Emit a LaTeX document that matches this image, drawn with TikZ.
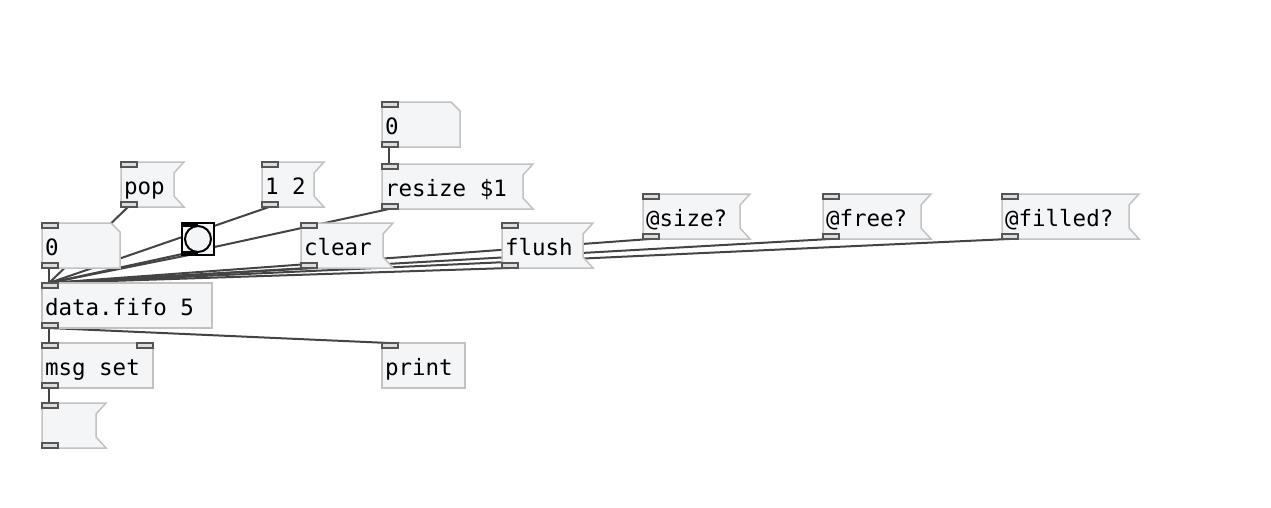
\documentclass[tikz,border=0pt]{standalone}
\usepackage{fontspec}
\setmonofont{DejaVu Sans Mono}
\usetikzlibrary{positioning}
\definecolor{boxfill}{HTML}{F4F5F7}
\definecolor{boxdraw}{HTML}{C2C2C2}
\definecolor{portdraw}{HTML}{555555}
\definecolor{portfill}{HTML}{DDDDDD}
\definecolor{wirecol}{HTML}{444444}
\newcommand{\pdfont}{\ttfamily\fontsize{22.5}{26}\selectfont}
\newcommand{\pdsp}{\hspace{0.602em}}
\pgfdeclarelayer{bg}
\pgfdeclarelayer{wires}
\pgfdeclarelayer{boxes}
\pgfsetlayers{bg,wires,boxes,main}
\begin{document}
\begin{tikzpicture}[x=1pt, y=-1pt,
        pd/.style={anchor=north west, inner xsep=3pt, inner ysep=0pt, outer sep=0pt, minimum height=45pt, text height=22pt, text depth=3pt, align=left, text width=#1, font=\pdfont},
        obj/.style={pd=#1, draw=boxdraw, fill=boxfill, line width=1.5pt},
        msg/.style={pd=#1},
        atom/.style={pd=#1},
        outline/.style={draw=boxdraw, fill=boxfill, line width=1.5pt},
        port/.style={draw=portdraw, fill=portfill, line width=1.4pt},
        wire/.style={draw=wirecol, line width=2pt},
        bng/.style={anchor=north west, draw, fill=boxfill, line width=2pt, minimum size=32pt, inner sep=0pt, outer sep=0pt}
    ]
        \begin{pgfonlayer}{bg}
            \fill[white] (0,0) rectangle (1271,507);
        \end{pgfonlayer}
        \useasboundingbox (0,0) rectangle (1271,507);

        \node [atom=72pt] (numtop) at (382,102) {0};
        \node [msg=145pt, below right=17pt and 0pt of numtop.south west] (resize) {resize\pdsp\$1};
        \node [msg=57pt] (pop) at (121,162) {pop};
        \node [msg=56pt] (pair) at (262,162) {1\pdsp 2};
        \node [atom=72pt] (num) at (42,223) {0};
        \node [bng] (bang) at (182,223) {};
        \node [circle, draw, fill=boxfill, line width=2pt, minimum size=26pt, inner sep=0pt] (bangdot) at (bang.center) {};
        \node [msg=86pt] (clear) at (301,223) {clear};
        \node [msg=85pt] (flush) at (502,223) {flush};
        \node [msg=101pt] (size) at (643,194) {@size?};
        \node [msg=102pt] (free) at (823,194) {@free?};
        \node [msg=131pt] (filled) at (1002,194) {@filled?};
        \node [obj=164pt] (fifo) at (42,283) {data.fifo\pdsp 5};
        \node [obj=105pt, below right=15pt and 0pt of fifo.south west] (set) {msg\pdsp set};
        \node [obj=77pt] (print) at (382,343) {print};
        \node [msg=58pt, below right=15pt and 0pt of set.south west] (out) {};

        \begin{pgfonlayer}{boxes}
            \foreach \n in {pop,pair,resize,clear,flush,size,free,filled,out}
                \draw [outline] (\n.north west) -- (\n.north east) -- ([shift={(-10,11)}]\n.north east) -- ([shift={(-10,-11)}]\n.south east) -- (\n.south east) -- (\n.south west) -- cycle;
            \foreach \n in {num,numtop}
                \draw [outline] (\n.north west) -- ([shift={(-9,0)}]\n.north east) -- ([shift={(0,9)}]\n.north east) -- (\n.south east) -- (\n.south west) -- cycle;
        \end{pgfonlayer}

        \begin{pgfonlayer}{wires}
            \foreach \a/\b in {numtop/resize,pop/fifo,pair/fifo,resize/fifo,num/fifo,bang/fifo,clear/fifo,flush/fifo,size/fifo,free/fifo,filled/fifo,fifo/set,fifo/print,set/out}
                \draw [wire] ([xshift=7pt]\a.south west) -- ([xshift=7pt]\b.north west);
        \end{pgfonlayer}

        \foreach \n in {numtop,resize,pop,pair,num,clear,flush,size,free,filled,fifo,set,print,out}
            \draw [port] (\n.north west) rectangle ++(16,5);
        \foreach \n in {numtop,resize,pop,pair,num,clear,flush,size,free,filled,fifo,set,out}
            \draw [port] (\n.south west) rectangle ++(16,-5);
        \draw [port] (set.north east) rectangle ++(-16,5);
        \fill (bang.north west) rectangle ++(16,4);
        \fill (bang.south west) rectangle ++(16,-4);
    \end{tikzpicture}
\end{document}
